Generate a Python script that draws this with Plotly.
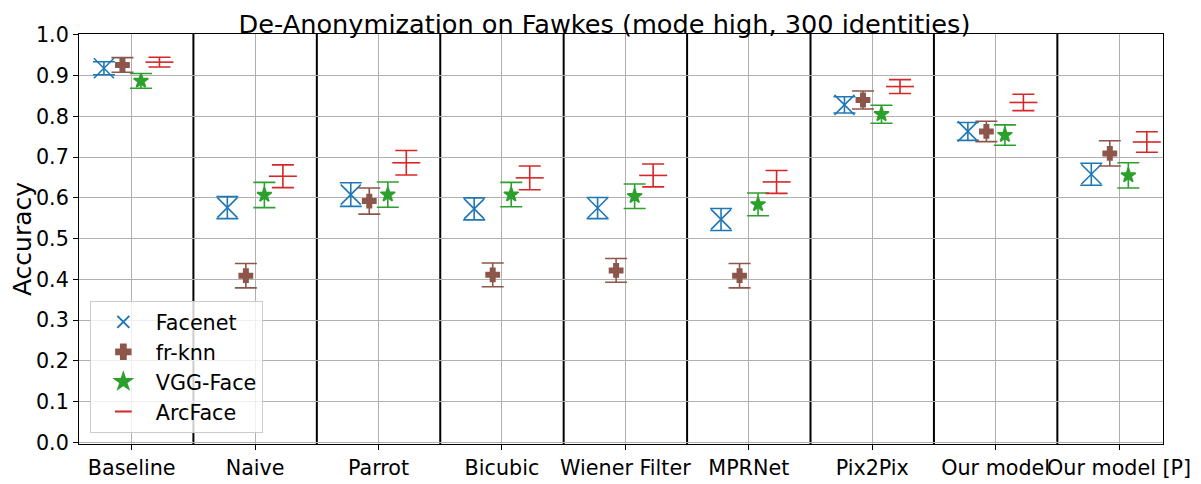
import plotly.graph_objects as go

categories = ["Baseline", "Naive", "Parrot", "Bicubic", "Wiener Filter",
              "MPRNet", "Pix2Pix", "Our model", "Our model [P]"]

facenet_mean = [0.918, 0.576, 0.608, 0.573, 0.575, 0.547, 0.828, 0.763, 0.658]
facenet_err = [0.016, 0.027, 0.029, 0.027, 0.026, 0.027, 0.020, 0.022, 0.027]

frknn_mean = [0.926, 0.409, 0.592, 0.411, 0.422, 0.409, 0.840, 0.763, 0.709]
frknn_err = [0.018, 0.030, 0.032, 0.029, 0.029, 0.030, 0.022, 0.025, 0.031]

vgg_mean = [0.887, 0.607, 0.608, 0.608, 0.604, 0.584, 0.805, 0.754, 0.655]
vgg_err = [0.018, 0.031, 0.031, 0.030, 0.030, 0.028, 0.022, 0.025, 0.031]

arc_mean = [0.933, 0.653, 0.686, 0.649, 0.655, 0.639, 0.873, 0.834, 0.737]
arc_err = [0.012, 0.028, 0.030, 0.029, 0.028, 0.028, 0.017, 0.020, 0.025]

series = [
    ("Facenet", facenet_mean, facenet_err, -0.225, "#1f77b4", "x-thin", 20),
    ("fr-knn", frknn_mean, frknn_err, -0.075, "#8c564b", "cross", 11),
    ("VGG-Face", vgg_mean, vgg_err, 0.075, "#2ca02c", "star", 11),
    ("ArcFace", arc_mean, arc_err, 0.225, "#d62728", "line-ew", 20),
]

fig = go.Figure()

# separators between the methods
for i in range(len(categories) - 1):
    fig.add_vline(x=i + 0.5, line=dict(color="black", width=2), layer="below")

for name, mean, err, offset, color, symbol, size in series:
    fig.add_trace(go.Scatter(
        x=[i + offset for i in range(len(categories))],
        y=mean,
        mode="markers",
        name=name,
        error_y=dict(type="data", array=err, visible=True,
                     color=color, thickness=1.6, width=11),
        marker=dict(symbol=symbol, size=size, color=color,
                    line=dict(color=color, width=1.6)),
    ))

# page body has an 8px default margin, so the figure is a bit smaller
fig.update_layout(
    width=1193,
    height=476,
    paper_bgcolor="white",
    plot_bgcolor="white",
    margin=dict(l=71, r=38, t=26, b=40, autoexpand=False),
    font=dict(family="DejaVu Sans", size=20.7, color="black"),
    title=dict(text="De-Anonymization on Fawkes (mode high, 300 identities)",
               x=0.5, xanchor="center", y=0.966, yanchor="middle",
               font=dict(size=25.6)),
    showlegend=True,
    legend=dict(x=0.01, y=0.027, xanchor="left", yanchor="bottom",
                bgcolor="rgba(255,255,255,0.8)", bordercolor="#cccccc",
                borderwidth=1, font=dict(size=20.7), itemsizing="constant",
                itemwidth=55, tracegroupgap=0),
)

fig.update_xaxes(
    range=[-0.427, 8.356],
    tickmode="array",
    tickvals=list(range(len(categories))),
    ticktext=categories,
    tickangle=0,
    automargin=False,
    showgrid=True, gridcolor="#b0b0b0", gridwidth=1,
    showline=True, linecolor="black", linewidth=1, mirror=True,
    ticks="outside", ticklen=5, tickcolor="black",
    zeroline=False,
)

fig.update_yaxes(
    range=[-0.004, 1.002],
    tickmode="linear", tick0=0, dtick=0.1, tickformat=".1f",
    title=dict(text="Accuracy", standoff=12),
    automargin=False,
    showgrid=True, gridcolor="#b0b0b0", gridwidth=1,
    showline=True, linecolor="black", linewidth=1, mirror=True,
    ticks="outside", ticklen=5, tickcolor="black",
    zeroline=False,
)

fig.write_html("out.html")
